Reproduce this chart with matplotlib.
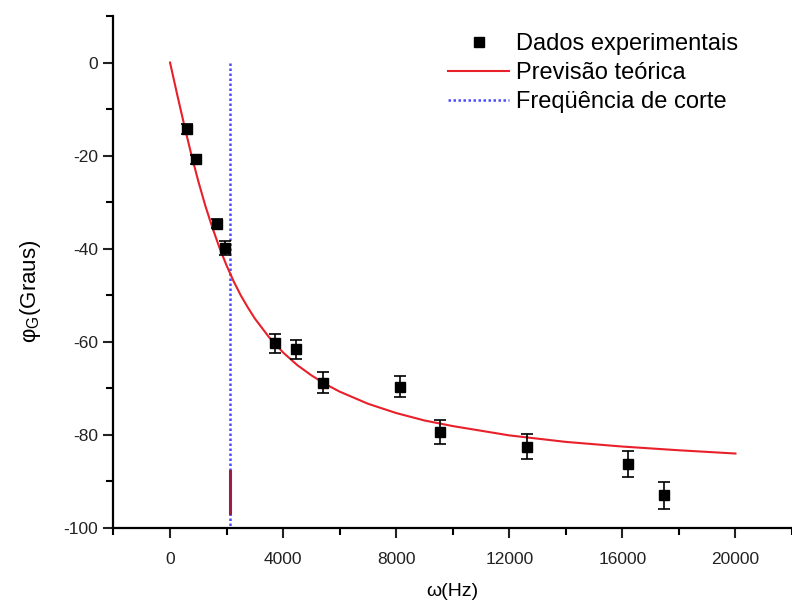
import matplotlib
matplotlib.use("Agg")
import matplotlib.pyplot as plt
from matplotlib.lines import Line2D
import numpy as np

# ===================================== data =====================================

# measured phase
w_exp = [616, 910, 1666, 1935, 3707, 4466, 5425, 8120, 9543, 12636, 16216, 17476]
phi_exp = [-14.3, -20.8, -34.6, -39.8, -60.3, -61.6, -68.8, -69.6, -79.4, -82.5, -86.2, -93.0]
phi_err = [1.0, 1.0, 1.0, 1.5, 2.0, 2.0, 2.3, 2.3, 2.5, 2.6, 2.8, 2.9]

# theoretical curve
w_theo = [0, 250, 500, 750, 1000, 1250, 1500, 1750, 2000, 2250, 2500, 2750, 3000,
          3500, 4000, 4500, 5000, 5500, 6000, 7000, 8000, 9000, 10000, 12000,
          14000, 16000, 18000, 20000]
phi_theo = [0, -6.8, -13.4, -19.7, -25.5, -30.8, -35.5, -39.8, -43.6, -47.0, -50.0,
            -52.6, -55.0, -59.0, -62.3, -65.0, -67.2, -69.1, -70.7, -73.3, -75.3,
            -76.9, -78.1, -80.1, -81.5, -82.5, -83.3, -84.0]

# cutoff frequency
w_cut = 2110
cut_top = 0
cut_bottom = -100
cut_dark = [-87.8, -96.8]

xticks = [0, 4000, 8000, 12000, 16000, 20000]
yticks = [0, -20, -40, -60, -80, -100]

labels = ["Dados experimentais", "Previsão teórica", "Freqüência de corte"]

# ====================================================================================

plt.rcParams["font.family"] = ["Liberation Sans", "DejaVu Sans"]
plt.rcParams["axes.unicode_minus"] = False

fig = plt.figure(figsize=(7.92, 6.06), dpi=100)
ax = fig.add_axes([0.1433, 0.1287, 0.8567, 0.8449])

red = "#e8202a"
blue = "#4a4cff"

ax.plot(w_theo, phi_theo, color=red, lw=1.5, zorder=3)
ax.plot([w_cut, w_cut], [cut_top, cut_bottom], color=blue, lw=1.8,
        linestyle=(0, (1, 1)), zorder=2)
ax.plot([w_cut, w_cut], cut_dark, color="#9c1c4a", lw=2.2, zorder=2)
ax.errorbar(w_exp, phi_exp, yerr=phi_err, fmt="s", color="black", ms=7,
            capsize=4, elinewidth=1.2, capthick=1.2, zorder=4)

ax.set_xlim(-2000, 22000)
ax.set_ylim(-100, 10)
ax.set_xticks(xticks)
ax.set_yticks(yticks)
ax.set_xticks(np.arange(-2000, 22001, 4000), minor=True)
ax.set_yticks(np.arange(-90, 11, 20), minor=True)

for side in ["top", "right"]:
    ax.spines[side].set_visible(False)
for side in ["left", "bottom"]:
    ax.spines[side].set_linewidth(1.6)

ax.tick_params(which="major", direction="out", length=7, width=1.5, labelsize=12.5,
               colors="#222222", pad=4)
ax.tick_params(which="minor", direction="out", length=5, width=1.5)
ax.tick_params(axis="x", which="major", pad=10)

ax.set_xlabel("ω(Hz)", fontsize=14, labelpad=12)
ax.set_ylabel(r"$\mathregular{φ_G}$(Graus)", fontsize=16)
ax.yaxis.set_label_coords(-0.104, 0.463)

# legend: plain square for the data, no error bar
handles = [
    Line2D([], [], color="black", marker="s", ms=7, linestyle="none"),
    Line2D([], [], color=red, lw=1.5),
    Line2D([], [], color=blue, lw=1.8, linestyle=(0, (1, 1))),
]
ax.legend(handles, labels, loc="upper right", bbox_to_anchor=(0.935, 0.985),
          frameon=False, fontsize=17, handlelength=2.6, handletextpad=0.3,
          labelspacing=0.3, borderaxespad=0)

fig.savefig("out.png", dpi=100)
